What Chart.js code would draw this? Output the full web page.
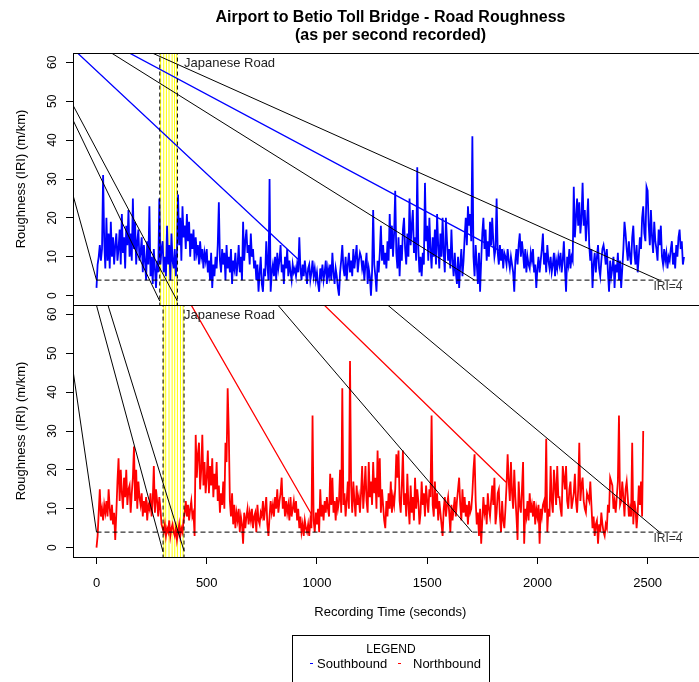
<!DOCTYPE html>
<html>
<head>
<meta charset="utf-8">
<title>Airport to Betio Toll Bridge - Road Roughness</title>
<script src="https://cdn.jsdelivr.net/npm/chart.js@4"></script>
<style>
  html, body { margin: 0; padding: 0; background: #fff; }
  #wrap { position: relative; width: 699px; height: 682px; overflow: hidden; }
  canvas { position: absolute; left: 0; top: 0; }
  #title {
    position: absolute; left: 0; top: 8px; width: 781px; text-align: center;
    font: bold 16px 'Liberation Sans', Arial, sans-serif; line-height: 18px; color: #000;
  }
  #legend {
    position: absolute; left: 292px; top: 635px; width: 196px; height: 70px;
    border: 1px solid #000; font-family: 'Liberation Sans', Arial, sans-serif; color: #000;
  }
  #legend .head { position: absolute; left: 0; width: 100%; top: 6px; text-align: center; font-size: 12px; line-height: 14px; }
  #legend .item { position: absolute; top: 21px; font-size: 13px; line-height: 14px; }
  #legend .dash { position: absolute; top: 27px; width: 3px; height: 1px; }
</style>
</head>
<body>
<div id="wrap">
  <canvas id="southChart" width="783" height="682"></canvas>
  <canvas id="northChart" width="783" height="682"></canvas>
  <div id="title">Airport to Betio Toll Bridge - Road Roughness<br>(as per second recorded)</div>
  <div id="legend">
    <div class="head">LEGEND</div>
    <div class="dash" style="left:17px;background:#0000ff"></div>
    <div class="item" style="left:24px">Southbound</div>
    <div class="dash" style="left:105px;background:#ff0000"></div>
    <div class="item" style="left:120px">Northbound</div>
  </div>
</div>
<script>
(function() {
    'use strict';

    // one reading kept every 5 seconds of recording
    const sampleStep = 5;

    // Southbound roughness (IRI, m/km), from t = 0 s
    const southIRI = [
        2, 8, 10, 13, 9, 12, 31, 14, 7, 20, 9, 16, 7, 19, 10, 15, 8, 13, 16, 9,
        12, 17, 8, 21, 11, 15, 7, 18, 13, 22, 10, 16, 9, 25, 12, 19, 8, 14, 17, 9,
        11, 15, 6, 13, 9, 4, 14, 8, 23, 5, 10, 3, 12, 7, 2, 9, 6, 25, 8, 12,
        14, 6, 10, 5, 18, 8, 13, 4, 16, 9, 7, 12, 5, 11, 26, 13, 20, 9, 23, 15,
        18, 12, 21, 14, 19, 10, 16, 12, 17, 9, 15, 11, 13, 8, 14, 10, 12, 7, 11, 9,
        12, 6, 9, 4, 11, 2, 8, 5, 10, 7, 13, 24, 9, 6, 12, 8, 11, 4, 13, 7,
        10, 6, 12, 3, 9, 7, 11, 5, 8, 13, 6, 10, 4, 19, 9, 14, 17, 11, 13, 8,
        16, 10, 12, 7, 9, 4, 8, 1, 6, 10, 3, 1, 7, 5, 14, 8, 4, 30, 1, 6,
        8, 5, 10, 4, 11, 7, 9, 13, 6, 8, 3, 10, 7, 12, 5, 9, 6, 4, 8, 6,
        7, 5, 8, 6, 15, 7, 4, 8, 5, 9, 6, 3, 7, 8, 4, 6, 9, 5, 7, 4,
        6, 3, 1, 7, 5, 8, 4, 6, 9, 3, 7, 5, 8, 4, 11, 6, 3, 7, 5, 2,
        0, 6, 9, 13, 7, 5, 10, 4, 8, 11, 6, 9, 5, 12, 7, 10, 13, 6, 9, 11,
        10, 7, 9, 4, 8, 11, 3, 7, 5, 0, 6, 22, 8, 5, 1, 9, 6, 11, 18, 9,
        13, 8, 11, 7, 14, 9, 21, 12, 18, 10, 16, 27, 11, 7, 15, 5, 13, 9, 17, 20,
        12, 8, 16, 10, 25, 13, 18, 22, 11, 15, 9, 33, 12, 6, 10, 5, 11, 8, 29, 14,
        18, 9, 20, 12, 7, 15, 10, 17, 8, 21, 13, 7, 16, 10, 20, 11, 6, 20, 14, 9,
        12, 7, 17, 9, 5, 11, 6, 3, 10, 2, 8, 12, 5, 9, 15, 20, 13, 23, 18, 21,
        14, 41, 10, 5, 13, 8, 3, 11, 1, 9, 16, 20, 12, 17, 9, 14, 10, 19, 13, 20,
        14, 10, 12, 25, 11, 8, 13, 9, 12, 7, 11, 10, 8, 12, 9, 7, 10, 8, 6, 1,
        9, 12, 8, 13, 16, 10, 14, 11, 7, 12, 6, 10, 8, 7, 11, 9, 12, 6, 8, 2,
        7, 10, 6, 9, 12, 16, 8, 11, 6, 13, 9, 7, 10, 6, 8, 11, 5, 9, 7, 10,
        8, 11, 6, 9, 14, 7, 1, 10, 8, 12, 7, 10, 9, 28, 15, 20, 25, 18, 24, 16,
        20, 29, 18, 22, 14, 19, 25, 13, 9, 12, 2, 8, 11, 6, 10, 13, 7, 5, 9, 12,
        13, 11, 8, 12, 6, 1, 9, 5, 7, 10, 2, 8, 6, 11, 4, 9, 2, 7, 12, 19,
        16, 12, 9, 14, 10, 8, 15, 18, 11, 8, 13, 6, 10, 15, 12, 20, 23, 16, 14, 28,
        27, 18, 13, 22, 15, 11, 19, 14, 12, 9, 17, 13, 18, 10, 8, 12, 9, 11, 7, 10,
        9, 12, 14, 8, 11, 7, 13, 10, 15, 17, 12, 14, 8, 10
    ];

    // Northbound roughness (IRI, m/km), from t = 0 s
    const northIRI = [
        0, 3, 9, 15, 8, 10, 7, 11, 9, 12, 8, 15, 10, 7, 11, 6, 9, 2, 9, 17,
        23, 12, 20, 14, 10, 18, 13, 20, 11, 15, 16, 9, 14, 18, 26, 12, 20, 10, 17, 13,
        11, 14, 8, 12, 9, 13, 7, 11, 10, 14, 8, 12, 21, 9, 15, 12, 8, 13, 10, 6,
        5, 4, 6, 3, 5, 4, 7, 3, 5, 6, 4, 3, 5, 2, 4, 6, 3, 5, 4, 7,
        9, 12, 8, 11, 7, 10, 12, 8, 9, 3, 29, 18, 24, 27, 15, 20, 29, 16, 22, 14,
        18, 25, 14, 21, 16, 23, 13, 19, 15, 22, 12, 16, 9, 14, 11, 17, 10, 27, 22, 41,
        30, 12, 8, 14, 6, 11, 5, 9, 7, 10, 4, 8, 6, 1, 9, 5, 8, 10, 6, 9,
        7, 10, 5, 8, 9, 4, 11, 7, 6, 9, 8, 12, 7, 10, 13, 6, 3, 8, 12, 9,
        11, 8, 13, 10, 15, 9, 12, 14, 18, 10, 13, 8, 12, 9, 11, 7, 13, 8, 10, 12,
        9, 12, 7, 10, 5, 8, 4, 6, 3, 7, 5, 4, 6, 3, 7, 5, 34, 7, 4, 9,
        6, 10, 4, 15, 8, 11, 7, 12, 9, 13, 10, 8, 19, 11, 18, 9, 12, 7, 13, 10,
        12, 20, 9, 41, 11, 14, 8, 12, 17, 10, 48, 16, 9, 17, 12, 8, 16, 11, 13, 9,
        14, 21, 10, 15, 21, 12, 9, 22, 13, 17, 11, 22, 14, 18, 10, 25, 13, 23, 9, 15,
        11, 7, 5, 12, 8, 14, 10, 17, 9, 13, 11, 15, 24, 18, 25, 12, 9, 16, 25, 11,
        14, 8, 19, 11, 6, 16, 9, 13, 7, 18, 10, 15, 12, 6, 9, 17, 11, 14, 8, 16,
        12, 9, 15, 13, 34, 11, 8, 17, 10, 14, 7, 12, 9, 6, 3, 10, 13, 8, 11, 13,
        9, 4, 11, 7, 10, 13, 8, 12, 15, 18, 11, 7, 15, 9, 13, 8, 11, 6, 12, 9,
        10, 14, 20, 24, 12, 6, 9, 3, 10, 1, 7, 13, 9, 11, 6, 14, 10, 8, 12, 16,
        11, 18, 6, 9, 14, 15, 8, 4, 12, 7, 5, 10, 16, 24, 17, 12, 22, 14, 10, 20,
        13, 8, 2, 17, 11, 9, 15, 22, 1, 10, 8, 12, 7, 14, 9, 11, 8, 12, 6, 10,
        8, 11, 1, 10, 8, 11, 12, 9, 28, 4, 10, 8, 21, 12, 9, 20, 16, 11, 21, 13,
        13, 10, 8, 21, 18, 15, 21, 12, 10, 15, 17, 10, 12, 14, 19, 12, 9, 15, 27, 12,
        16, 18, 12, 10, 9, 14, 13, 12, 17, 11, 5, 8, 3, 6, 7, 1, 6, 4, 9, 6,
        4, 3, 6, 5, 11, 9, 18, 17, 16, 10, 12, 9, 13, 17, 34, 11, 12, 17, 13, 8,
        15, 17, 13, 8, 10, 8, 27, 6, 12, 10, 5, 9, 16, 11, 17, 8, 30
    ];

    const xTicks = [0, 500, 1000, 1500, 2000, 2500];
    const yTicks = [0, 10, 20, 30, 40, 50, 60];
    const xRange = [-106.6, 2771.6];
    const yRange = [-2.4, 62.4];

    // IRI = 4 reference line
    const iriLevel = 4;
    const iriLine = [0, 2658];

    // Japanese Road section (seconds)
    const southRoadEdges = [287, 367];
    const southRoadLines = [291, 305, 317, 329, 343, 354, 364];
    const northRoadEdges = [302, 397];
    const northRoadLines = [305, 314, 329, 343, 355, 367, 381, 393];
    const roadLabelAt = [397, 59.7];

    // straight jump segments in the recordings: [x1, y1, x2, y2]
    const southBlackLines = [
        [-200, 45.0, 0, 4],
        [-200, 56.2, 287, -1.4],
        [-200, 58.9, 367, -1.4],
        [0, 64.8, 1715, 4],
        [150, 65.0, 2553, 4]
    ];
    const southBlueLines = [
        [-105, 63.4, 922, 9],
        [50, 65.4, 1830, 11.5]
    ];
    const northBlackLines = [
        [-200, 82.0, 0, 4],
        [-20, 66.5, 302, -1.1],
        [30, 66.4, 397, -0.8],
        [780, 65.2, 1704, 4],
        [1280, 64.3, 2554, 4]
    ];
    const northRedLines = [
        [400, 65.3, 975, 8.6],
        [1000, 64.2, 1858, 16.8]
    ];

    const FONT = "'Liberation Sans', Arial, sans-serif";
    Chart.defaults.font.family = FONT;
    Chart.defaults.color = '#000';

    function toSeries(values) {
        return values.map((v, i) => ({ x: i * sampleStep, y: v }));
    }

    function toSegments(list) {
        const pts = [];
        list.forEach(s => {
            pts.push({ x: s[0], y: s[1] }, { x: s[2], y: s[3] }, { x: s[2], y: null });
        });
        return pts;
    }

    function toVerticals(xs) {
        const pts = [];
        xs.forEach(x => {
            pts.push({ x: x, y: -10 }, { x: x, y: 80 }, { x: x, y: null });
        });
        return pts;
    }

    function lineSet(data, color, width, order, dash) {
        return {
            data: data,
            borderColor: color,
            borderWidth: width,
            borderDash: dash || [],
            pointRadius: 0,
            tension: 0,
            spanGaps: false,
            fill: false,
            order: order
        };
    }

    // frame, rotated y tick labels and the text notes of one panel
    const panelDecor = {
        id: 'panelDecor',
        afterDatasetsDraw(chart) {
            const { ctx, chartArea: a, scales: { x, y } } = chart;
            ctx.save();
            ctx.strokeStyle = '#000';
            ctx.lineWidth = 1;
            ctx.strokeRect(a.left + 0.5, a.top + 0.5, a.right - a.left, a.bottom - a.top);

            ctx.fillStyle = '#000';
            ctx.font = '12px ' + FONT;
            ctx.textAlign = 'center';
            ctx.textBaseline = 'middle';
            y.ticks.forEach(t => {
                ctx.save();
                ctx.translate(53, y.getPixelForValue(t.value));
                ctx.rotate(-Math.PI / 2);
                ctx.fillText(String(t.value), 0, 0);
                ctx.restore();
            });

            ctx.font = '13px ' + FONT;
            ctx.fillStyle = '#222';
            ctx.textAlign = 'left';
            ctx.fillText('Japanese Road', x.getPixelForValue(roadLabelAt[0]), y.getPixelForValue(roadLabelAt[1]));

            ctx.font = '12px ' + FONT;
            ctx.fillStyle = '#333';
            ctx.textAlign = 'right';
            ctx.fillText('IRI=4', x.getPixelForValue(iriLine[1]), y.getPixelForValue(iriLevel) + 7);
            ctx.restore();
        }
    };

    function makePanel(canvasId, cfg) {
        const ctx = document.getElementById(canvasId).getContext('2d');
        return new Chart(ctx, {
            type: 'line',
            data: {
                datasets: [
                    lineSet(toVerticals(cfg.road), '#ffff00', 1, 9),
                    lineSet(toVerticals(cfg.edges), '#000', 1, 2, [4, 3]),
                    lineSet(toSeries(cfg.values), cfg.color, 1.8, 5),
                    lineSet(toSegments(cfg.colorLines), cfg.color, 1.3, 4),
                    lineSet([{ x: iriLine[0], y: iriLevel }, { x: iriLine[1], y: iriLevel }], '#000', 1, 1, [5, 3]),
                    lineSet(toSegments(cfg.blackLines), '#000', 1, 0)
                ]
            },
            options: {
                responsive: false,
                animation: false,
                events: [],
                layout: { autoPadding: false, padding: cfg.padding },
                plugins: { legend: { display: false }, tooltip: { enabled: false } },
                scales: {
                    x: {
                        type: 'linear',
                        min: xRange[0],
                        max: xRange[1],
                        display: cfg.showX,
                        afterBuildTicks: s => { s.ticks = xTicks.map(v => ({ value: v })); },
                        afterFit: s => { if (cfg.showX) s.height = 125; },
                        grid: { drawOnChartArea: false, drawTicks: true, tickLength: 7, color: '#000' },
                        border: { display: false },
                        ticks: {
                            padding: 12,
                            font: { size: 13 },
                            color: '#000',
                            callback: v => String(v)
                        },
                        title: {
                            display: true,
                            text: 'Recording Time (seconds)',
                            font: { size: 13 },
                            color: '#000',
                            padding: { top: 0, bottom: 62 }
                        }
                    },
                    y: {
                        type: 'linear',
                        min: yRange[0],
                        max: yRange[1],
                        afterBuildTicks: s => { s.ticks = yTicks.map(v => ({ value: v })); },
                        afterFit: s => { s.width = 73; },
                        grid: { drawOnChartArea: false, drawTicks: true, tickLength: 7, color: '#000' },
                        border: { display: false },
                        ticks: { display: false },
                        title: {
                            display: true,
                            text: 'Roughness (IRI) (m/km)',
                            font: { size: 13 },
                            color: '#000',
                            padding: { top: 14, bottom: 0 }
                        }
                    }
                }
            },
            plugins: [panelDecor]
        });
    }

    makePanel('southChart', {
        values: southIRI,
        color: '#0000ff',
        road: southRoadLines,
        edges: southRoadEdges,
        colorLines: southBlueLines,
        blackLines: southBlackLines,
        showX: false,
        padding: { top: 53, right: 75.5, bottom: 377, left: 0 }
    });

    makePanel('northChart', {
        values: northIRI,
        color: '#ff0000',
        road: northRoadLines,
        edges: northRoadEdges,
        colorLines: northRedLines,
        blackLines: northBlackLines,
        showX: true,
        padding: { top: 305, right: 75.5, bottom: 0, left: 0 }
    });
})();
</script>
</body>
</html>
